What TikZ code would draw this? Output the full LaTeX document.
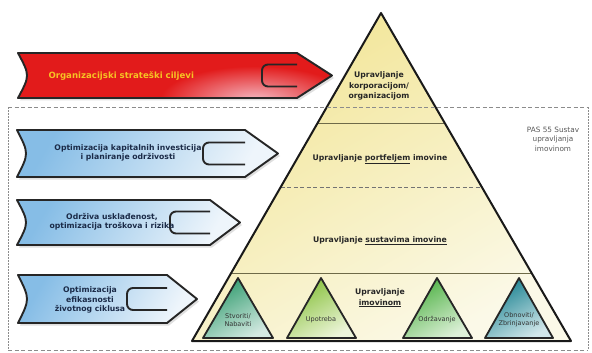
\documentclass[tikz,border=0pt]{standalone}
\usepackage{fontspec}
\setmainfont{DejaVu Sans}
\usetikzlibrary{calc}
\definecolor{redA}{HTML}{E21B1B}
\definecolor{redB}{HTML}{F4B8C2}
\definecolor{blueA}{HTML}{86BDE6}
\definecolor{blueB}{HTML}{EEF5FB}
\definecolor{yelA}{HTML}{F2E596}
\definecolor{yelB}{HTML}{FBF9E8}
\definecolor{gA}{HTML}{2E9A6C}\definecolor{gAb}{HTML}{D3E9E1}
\definecolor{gB}{HTML}{86C03A}\definecolor{gBb}{HTML}{EDF5DA}
\definecolor{gC}{HTML}{4DB143}\definecolor{gCb}{HTML}{DDF0D8}
\definecolor{gD}{HTML}{17808F}\definecolor{gDb}{HTML}{D2E7EA}
\definecolor{txtred}{HTML}{F6C324}
\definecolor{txtblue}{HTML}{1B2B48}
\definecolor{bandline}{HTML}{6E6A48}
\newcommand\arrshape[6]{%
 % #1 L, #2 T, #3 B, #4 R (body end), #5 P (tip x), #6 style
 \path[#6] (#1,#2) -- (#4,#2) -- (#5,{(#2+#3)/2}) -- (#4,#3) -- (#1,#3)
   .. controls ({#1+12},{(#2+#3)/2}) .. (#1,#2) -- cycle;}
\newcommand\arrnotch[3]{%
 % #1 notch x, #2 R, #3 mid y
 \draw[arrline,rounded corners=6pt] (#2,{#3-11}) -- (#1,{#3-11}) -- (#1,{#3+11}) -- (#2,{#3+11});}
\begin{document}
\begin{tikzpicture}[x=1pt,y=-1pt,
  arrline/.style={draw=black!85,line width=1.9pt,line join=round},
  shadowfill/.style={fill=black!35,opacity=0.35},
  bluefill/.style={top color=blueA,bottom color=blueB,shading angle=60},
  arrtext/.style={font=\fontsize{7.7}{9.5}\selectfont\bfseries,align=center,text=txtblue},
  pyrtext/.style={font=\fontsize{7.7}{10.5}\selectfont\bfseries,align=center,text=black!85},
  smalltext/.style={font=\fontsize{6.5}{8}\selectfont,align=center,text=black!80},
  frame/.style={draw=black!45,line width=0.9pt},
  smalltri/.style={draw=black!85,line width=1.8pt,line join=round}]
\useasboundingbox (0,0) rectangle (592,353);
\fill[white] (0,0) rectangle (592,353);

% ---------- pyramid ----------
\coordinate (apex) at (381,13);
\coordinate (bl) at (192,341);
\coordinate (br) at (571,341);
\path[top color=yelA,bottom color=yelB,shading angle=30] (apex) -- (bl) -- (br) -- cycle;
% band lines
\draw[bandline,line width=1pt] ($(apex)!0.3384!(bl)$) -- ($(apex)!0.3384!(br)$);
\draw[black!55,line width=0.9pt,dash pattern=on 4pt off 2.5pt] ($(apex)!0.5305!(bl)$) -- ($(apex)!0.5305!(br)$);
\draw[bandline,line width=1pt] ($(apex)!0.7957!(bl)$) -- ($(apex)!0.7957!(br)$);

% small triangles
\path[top color=gA,bottom color=gAb,shading angle=30] (238,278) -- (203,338) -- (273,338) -- cycle;
\draw[smalltri] (238,278) -- (203,338) -- (273,338) -- cycle;
\path[top color=gB,bottom color=gBb,shading angle=30] (321,278) -- (287,338) -- (356,338) -- cycle;
\draw[smalltri] (321,278) -- (287,338) -- (356,338) -- cycle;
\path[top color=gC,bottom color=gCb,shading angle=30] (437,278) -- (403,338) -- (472,338) -- cycle;
\draw[smalltri] (437,278) -- (403,338) -- (472,338) -- cycle;
\path[top color=gD,bottom color=gDb,shading angle=30] (519,278) -- (485,338) -- (553,338) -- cycle;
\draw[smalltri] (519,278) -- (485,338) -- (553,338) -- cycle;

\draw[black!90,line width=2pt,line join=round] (apex) -- (bl) -- (br) -- cycle;

% pyramid texts
\node[pyrtext] (t1) at (379,86) {Upravljanje\\korporacijom/\\organizacijom};
\node[pyrtext] (t2) at (380,159) {Upravljanje \underline{portfeljem} imovine};
\node[pyrtext] (t3) at (380,241) {Upravljanje \underline{sustavima imovine}};
\node[pyrtext] (t4) at (380,298) {Upravljanje\\\underline{imovinom}};
\node[smalltext] (s1) at (238,320) {Stvoriti/\\Nabaviti};
\node[smalltext] (s2) at (321,320) {Upotreba};
\node[smalltext] (s3) at (437,320) {Održavanje};
\node[smalltext] (s4) at (519,320) {Obnoviti/\\Zbrinjavanje};

% ---------- frame (PAS 55) ----------
\draw[frame,dash pattern=on 4pt off 2.5pt] (8,107) -- (588,107);
\draw[frame,dash pattern=on 4pt off 2.5pt] (8,350) -- (588,350);
\draw[frame,dash pattern=on 1.5pt off 1.5pt] (8,107) -- (8,350);
\draw[frame,dash pattern=on 1.5pt off 1.5pt] (588,107) -- (588,350);
\node[font=\fontsize{7.3}{9.5}\selectfont,align=center,text=black!65] (pas) at (553,139) {PAS 55 Sustav\\upravljanja\\imovinom};

% ---------- arrows ----------
% red
\begin{scope}[shift={(2,2.5)}]\arrshape{18}{53}{98}{297}{332}{shadowfill}\end{scope}
\begin{scope}
  \arrshape{18}{53}{98}{297}{332}{clip}
  \fill[redA] (0,40) rectangle (340,110);
  \shade[inner color=redB,outer color=redA] (255,100) ellipse (95 and 34);
\end{scope}
\arrnotch{262}{297}{75.5}
\arrshape{18}{53}{98}{297}{332}{arrline}
\node[font=\fontsize{8.6}{10}\selectfont\bfseries,text=txtred,anchor=west] (r1) at (45,75.5) {Organizacijski strateški ciljevi};

% blue 1
\begin{scope}[shift={(2,2.5)}]\arrshape{17}{130}{177}{245}{278}{shadowfill}\end{scope}
\arrshape{17}{130}{177}{245}{278}{bluefill}
\arrnotch{203}{245}{153.5}
\arrshape{17}{130}{177}{245}{278}{arrline}
\node[arrtext] (b1) at (128,153) {Optimizacija kapitalnih investicija\\i planiranje održivosti};

% blue 2
\begin{scope}[shift={(2,2.5)}]\arrshape{17}{200}{245}{210}{240}{shadowfill}\end{scope}
\arrshape{17}{200}{245}{210}{240}{bluefill}
\arrnotch{170}{210}{222.5}
\arrshape{17}{200}{245}{210}{240}{arrline}
\node[arrtext] (b2) at (112,222) {Održiva usklađenost,\\optimizacija troškova i rizika};

% blue 3
\begin{scope}[shift={(2,2.5)}]\arrshape{18}{275}{323}{167}{197}{shadowfill}\end{scope}
\arrshape{18}{275}{323}{167}{197}{bluefill}
\arrnotch{127}{167}{299}
\arrshape{18}{275}{323}{167}{197}{arrline}
\node[arrtext] (b3) at (90,300) {Optimizacija\\efikasnosti\\životnog ciklusa};
\end{tikzpicture}
\end{document}
